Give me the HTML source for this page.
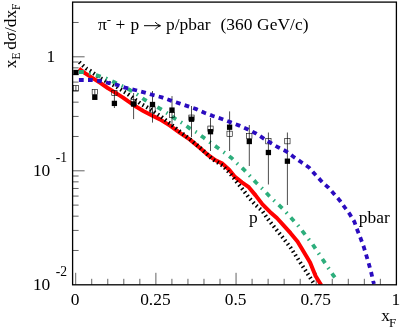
<!DOCTYPE html>
<html><head><meta charset="utf-8"><style>
html,body{margin:0;padding:0;background:#fff;}
body{width:401px;height:327px;position:relative;overflow:hidden;will-change:transform;font-family:"Liberation Serif",serif;color:#000;}
</style></head><body>
<svg width="401" height="327" viewBox="0 0 401 327" style="position:absolute;left:0;top:0">
<defs><clipPath id="c"><rect x="72.6" y="2.1" width="323.8" height="282.7"/></clipPath></defs>
<path d="M75.70 284.80V272.80M91.73 284.80V278.80M107.77 284.80V278.80M123.81 284.80V278.80M139.84 284.80V278.80M155.88 284.80V272.80M171.91 284.80V278.80M187.94 284.80V278.80M203.98 284.80V278.80M220.01 284.80V278.80M236.05 284.80V272.80M252.08 284.80V278.80M268.12 284.80V278.80M284.15 284.80V278.80M300.19 284.80V278.80M316.23 284.80V272.80M332.26 284.80V278.80M348.29 284.80V278.80M364.33 284.80V278.80M380.37 284.80V278.80M72.60 56.80H84.60M72.60 22.48H78.60M72.60 170.80H84.60M72.60 136.48H78.60M72.60 116.41H78.60M72.60 102.17H78.60M72.60 91.12H78.60M72.60 82.09H78.60M72.60 74.46H78.60M72.60 67.85H78.60M72.60 62.02H78.60M72.60 250.48H78.60M72.60 230.41H78.60M72.60 216.17H78.60M72.60 205.12H78.60M72.60 196.09H78.60M72.60 188.46H78.60M72.60 181.85H78.60M72.60 176.02H78.60" stroke="#000" stroke-width="0.62" fill="none"/>
<g clip-path="url(#c)" fill="none" stroke-linejoin="round">
<polyline points="78.9,68.7 85.3,73.4 100.6,83.1 107.7,88.0 115.3,92.6 123.0,97.6 128.0,101.2 135.5,106.3 143.3,111.0 151.0,115.0 160.0,119.4 170.0,125.6 180.0,132.9 190.0,139.6 200.0,148.0 208.0,155.0 215.6,160.3 222.5,163.6 229.4,170.0 235.0,176.9 241.9,182.4 248.8,187.2 255.6,195.4 262.5,204.4 270.0,211.9 276.9,218.0 283.8,225.6 290.6,233.2 297.5,241.5 301.6,248.3 310.1,262.6 315.6,276.0 321.3,285.2" stroke="#ff0000" stroke-width="4.0"/>
<polyline points="79.3,62.1 86.1,68.4 90.0,70.7 93.8,73.4 101.4,78.6 105.3,80.9 116.0,86.4 128.2,94.3 140.0,103.2 147.5,107.6 160.0,115.8 170.0,123.6 180.0,131.6 190.0,139.3 200.0,147.6 212.5,159.2 222.5,165.6 230.0,173.4 237.5,183.0 243.2,190.0 248.8,197.5 255.6,205.0 262.5,211.3 269.0,220.5 283.6,238.6 290.6,247.7 298.0,259.0 306.9,272.6 314.8,284.8" stroke="#000" stroke-width="4" stroke-dasharray="1.5 3.0"/>
<polyline points="78.9,72.0 84.0,72.0 98.0,75.7 106.8,78.7 115.0,82.5 122.8,86.4 130.0,90.0 138.0,95.0 145.0,100.0 153.0,104.6 160.0,108.6 168.0,113.6 175.0,118.6 183.0,123.5 190.0,128.6 197.0,132.6 203.6,137.6 211.0,143.0 218.0,148.0 225.0,153.0 231.6,158.0 237.5,163.8 243.8,169.5 250.0,176.0 256.0,182.5 262.5,188.8 268.8,195.5 274.5,201.0 283.6,209.5 298.0,225.5 312.7,244.4 324.3,261.9 333.0,275.0 338.0,281.5" stroke="#2dae7c" stroke-width="3.8" stroke-dasharray="5 5.45 1.5 5.45"/>
</g>
<path d="M75.90 85.50V90.80M94.80 89.50V94.60M114.40 90.50V108.00M133.60 93.00V119.10M152.50 91.00V122.60M172.00 96.10V126.70M191.50 106.00V137.00M210.50 118.00V151.00M229.60 111.40V151.00M249.30 125.00V166.00M268.40 132.50V184.50M287.40 132.50V205.00" stroke="#000" stroke-width="0.7" fill="none"/>
<rect x="73.25" y="85.45" width="5.3" height="5.3" fill="none" stroke="#000" stroke-width="0.6"/>
<rect x="92.15" y="89.35" width="5.3" height="5.3" fill="none" stroke="#000" stroke-width="0.6"/>
<rect x="111.75" y="90.35" width="5.3" height="5.3" fill="none" stroke="#000" stroke-width="0.6"/>
<rect x="130.95" y="99.65" width="5.3" height="5.3" fill="none" stroke="#000" stroke-width="0.6"/>
<rect x="149.85" y="106.85" width="5.3" height="5.3" fill="none" stroke="#000" stroke-width="0.6"/>
<rect x="169.35" y="112.35" width="5.3" height="5.3" fill="none" stroke="#000" stroke-width="0.6"/>
<rect x="188.85" y="115.05" width="5.3" height="5.3" fill="none" stroke="#000" stroke-width="0.6"/>
<rect x="207.85" y="126.05" width="5.3" height="5.3" fill="none" stroke="#000" stroke-width="0.6"/>
<rect x="226.95" y="131.15" width="5.3" height="5.3" fill="none" stroke="#000" stroke-width="0.6"/>
<rect x="246.65" y="133.35" width="5.3" height="5.3" fill="none" stroke="#000" stroke-width="0.6"/>
<rect x="265.75" y="138.55" width="5.3" height="5.3" fill="none" stroke="#000" stroke-width="0.6"/>
<rect x="284.75" y="138.55" width="5.3" height="5.3" fill="none" stroke="#000" stroke-width="0.6"/>
<rect x="73.25" y="69.85" width="5.3" height="5.3" fill="#000"/>
<rect x="92.15" y="94.65" width="5.3" height="5.3" fill="#000"/>
<rect x="111.75" y="100.75" width="5.3" height="5.3" fill="#000"/>
<rect x="130.95" y="101.35" width="5.3" height="5.3" fill="#000"/>
<rect x="149.85" y="101.85" width="5.3" height="5.3" fill="#000"/>
<rect x="169.35" y="107.45" width="5.3" height="5.3" fill="#000"/>
<rect x="188.85" y="116.55" width="5.3" height="5.3" fill="#000"/>
<rect x="207.85" y="129.05" width="5.3" height="5.3" fill="#000"/>
<rect x="226.95" y="124.55" width="5.3" height="5.3" fill="#000"/>
<rect x="246.65" y="138.85" width="5.3" height="5.3" fill="#000"/>
<rect x="265.75" y="149.85" width="5.3" height="5.3" fill="#000"/>
<rect x="284.75" y="158.55" width="5.3" height="5.3" fill="#000"/>
<g clip-path="url(#c)" fill="none" stroke-linejoin="round">
<polyline points="78.9,80.0 91.0,80.0 100.0,81.0 108.5,83.0 118.0,85.2 125.0,87.6 135.0,90.0 144.0,92.4 153.0,95.0 162.0,97.4 171.0,100.6 180.0,103.6 189.0,106.6 197.0,109.4 205.0,113.0 213.0,116.0 222.0,119.0 231.0,122.4 239.4,125.6 248.0,129.4 256.0,133.5 266.0,140.0 277.5,147.0 286.0,151.2 293.8,157.0 301.4,162.3 309.0,167.5 315.2,174.5 322.2,182.0 328.4,187.6 334.5,194.4 339.7,200.4 345.2,208.0 349.8,214.2 354.4,221.8 357.5,230.5 360.8,238.8 363.8,247.0 366.2,255.0 368.8,263.8 371.2,272.5 373.2,281.2 374.0,284.0" stroke="#2a0bbf" stroke-width="3.8" stroke-dasharray="4.8 4.3"/>
</g>
<rect x="72.60" y="2.10" width="323.80" height="282.70" fill="none" stroke="#000" stroke-width="1.3"/>
<path d="M144 25.7H160M155.2 22Q157 24.8 160.6 25.7Q157 26.6 155.2 29.4" fill="none" stroke="#000" stroke-width="1"/>
</svg>
<div style="position:absolute;white-space:pre;font-size:17.4px;line-height:17.4px;left:98.0px;top:16.03px;">π</div>
<div style="position:absolute;white-space:pre;font-size:13px;line-height:13px;left:106.8px;top:13.31px;">-</div>
<div style="position:absolute;white-space:pre;font-size:17.4px;line-height:17.4px;left:115.6px;top:16.03px;">+</div>
<div style="position:absolute;white-space:pre;font-size:17.4px;line-height:17.4px;left:130.4px;top:16.03px;">p</div>
<div style="position:absolute;white-space:pre;font-size:17.4px;line-height:17.4px;left:166.0px;top:16.03px;">p/pbar</div>
<div style="position:absolute;white-space:pre;font-size:17.4px;line-height:17.4px;left:220.4px;top:16.03px;letter-spacing:0.08px;">(360 GeV/c)</div>
<div style="position:absolute;white-space:pre;font-size:17.4px;line-height:17.4px;left:249.1px;top:208.83px;">p</div>
<div style="position:absolute;white-space:pre;font-size:17.4px;line-height:17.4px;left:358.8px;top:208.83px;">pbar</div>
<div style="position:absolute;white-space:pre;font-size:17.4px;line-height:17.4px;left:45.2px;width:60px;text-align:center;top:290.63px">0</div>
<div style="position:absolute;white-space:pre;font-size:17.4px;line-height:17.4px;left:125.4px;width:60px;text-align:center;top:290.63px">0.25</div>
<div style="position:absolute;white-space:pre;font-size:17.4px;line-height:17.4px;left:205.6px;width:60px;text-align:center;top:290.63px">0.5</div>
<div style="position:absolute;white-space:pre;font-size:17.4px;line-height:17.4px;left:285.7px;width:60px;text-align:center;top:290.63px">0.75</div>
<div style="position:absolute;white-space:pre;font-size:17.4px;line-height:17.4px;left:365.9px;width:60px;text-align:center;top:290.63px">1</div>
<div style="position:absolute;white-space:pre;font-size:17.4px;line-height:17.4px;right:345.7px;top:47.73px;">1</div>
<div style="position:absolute;white-space:pre;font-size:17.4px;line-height:17.4px;right:350.7px;top:161.93px;">10</div>
<div style="position:absolute;white-space:pre;font-size:17.4px;line-height:17.4px;right:350.7px;top:276.43px;">10</div>
<div style="position:absolute;white-space:pre;font-size:13.6px;line-height:13.6px;left:55.8px;top:150.81px;">-1</div>
<div style="position:absolute;white-space:pre;font-size:13.6px;line-height:13.6px;left:55.8px;top:265.11px;">-2</div>
<div style="position:absolute;white-space:pre;font-size:17.4px;line-height:17.4px;left:381.3px;top:307.03px;">x</div>
<div style="position:absolute;white-space:pre;font-size:13px;line-height:13px;left:389.0px;top:315.61px;">F</div>
<div style="position:absolute;white-space:pre;font-size:17.4px;line-height:17.4px;left:0;top:0;letter-spacing:-0.08px;transform-origin:0 0;transform:translate(2.1px,68.2px) rotate(-90deg);">x<span style="font-size:11.5px;position:relative;top:4.4px;">E</span><span style="letter-spacing:-1.6px"> </span>dσ/dx<span style="font-size:11.5px;position:relative;top:4.4px;">F</span></div>
</body></html>
